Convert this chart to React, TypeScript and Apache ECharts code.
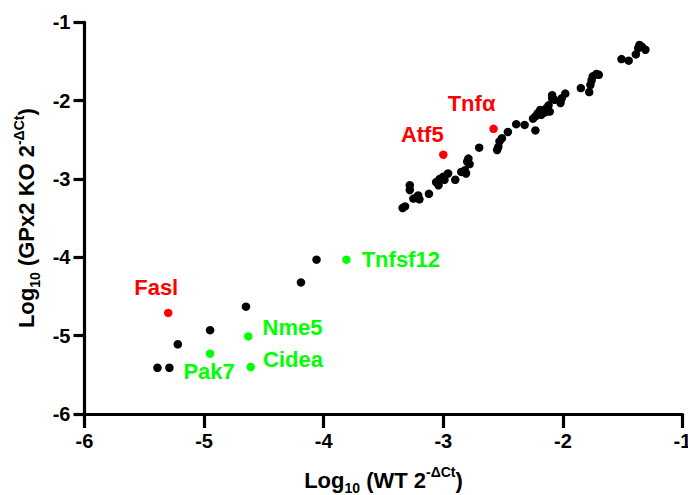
import React, { useEffect, useRef } from "react";
import * as echarts from "echarts";

// WT (x) and GPx2 KO (y) log10 values for unlabelled genes
const blackWT = [
  -4.06, -4.19, -4.65, -4.95, -5.22, -5.29, -5.39,
  -3.34, -3.32, -3.28, -3.28, -3.25, -3.21, -3.2, -3.12, -3.06, -3.04, -3.03, -3.0, -2.99,
  -2.96, -2.9, -2.85, -2.82, -2.81, -2.8, -2.79, -2.78, -2.7, -2.55, -2.54, -2.53, -2.51,
  -2.46, -2.39, -2.32, -2.23, -2.25, -2.23, -2.21, -2.19, -2.18, -2.15, -2.14, -2.12, -2.11,
  -2.09, -2.09, -2.07, -2.02, -1.98, -2.01, -1.85, -1.78, -1.77, -1.76, -1.75, -1.72, -1.7,
  -1.51, -1.45, -1.39, -1.37, -1.36, -1.34, -1.31,
];
const blackKO = [
  -4.03, -4.32, -4.63, -4.93, -5.11, -5.41, -5.41,
  -3.37, -3.35, -3.08, -3.14, -3.25, -3.21, -3.26, -3.19, -3.04, -3.08, -3.0, -2.97, -3.01,
  -2.93, -3.01, -2.91, -2.89, -2.93, -2.78, -2.74, -2.81, -2.6, -2.63, -2.59, -2.52, -2.48,
  -2.4, -2.3, -2.31, -2.38, -2.23, -2.2, -2.16, -2.12, -2.18, -2.15, -2.1, -2.06, -2.14,
  -1.97, -1.93, -1.99, -2.03, -1.91, -1.97, -1.84, -1.89, -1.8, -1.74, -1.69, -1.66, -1.67,
  -1.47, -1.49, -1.41, -1.33, -1.29, -1.31, -1.35,
];

const redGenes = ["Fasl", "Atf5", "Tnf\u03b1"];
const redWT = [-5.3, -3.0, -2.58];
const redKO = [-4.71, -2.69, -2.36];

const greenGenes = ["Tnfsf12", "Nme5", "Cidea", "Pak7"];
const greenWT = [-3.81, -4.63, -4.61, -4.95];
const greenKO = [-4.03, -5.01, -5.4, -5.23];

const axisTicks = { min: -6, max: -1, interval: 1 };

// label placement (style only)
const labelPlace: Record<string, { position: string; offset: number[] }> = {
  Fasl: { position: "top", offset: [-12, -5] },
  Atf5: { position: "top", offset: [-21, 0] },
  "Tnf\u03b1": { position: "top", offset: [-22, -5] },
  Tnfsf12: { position: "right", offset: [6, 0] },
  Nme5: { position: "right", offset: [5, -9] },
  Cidea: { position: "right", offset: [3, -7] },
  Pak7: { position: "bottom", offset: [-1, -2] },
};

const FONT = "'Liberation Sans', Arial, sans-serif";

function labelled(names: string[], xs: number[], ys: number[], color: string) {
  return names.map((n, i) => ({
    name: n,
    value: [xs[i], ys[i]],
    label: {
      show: true,
      formatter: "{b}",
      position: labelPlace[n].position,
      offset: labelPlace[n].offset,
      color,
      opacity: 1,
      fontSize: 22,
      fontWeight: "bold",
      fontFamily: FONT,
      distance: 5,
    },
  }));
}

const richName = {
  m: { fontSize: 22, fontWeight: "bold", fontFamily: FONT, color: "#000", lineHeight: 30, verticalAlign: "middle" },
  sub: { fontSize: 14, fontWeight: "bold", fontFamily: FONT, color: "#000", lineHeight: 14, verticalAlign: "bottom" },
  sup: { fontSize: 14, fontWeight: "bold", fontFamily: FONT, color: "#000", lineHeight: 14, verticalAlign: "top" },
};

export default function App() {
  const ref = useRef<HTMLDivElement>(null);
  useEffect(() => {
    document.body.style.margin = "0";
    const chart = echarts.init(ref.current!, null, { renderer: "svg" });
    const axisCommon = {
      type: "value",
      min: axisTicks.min,
      max: axisTicks.max,
      interval: axisTicks.interval,
      splitLine: { show: false },
      axisLine: { show: true, onZero: false, lineStyle: { color: "#000", width: 3.2 } },
      nameLocation: "middle",
    };
    chart.setOption({
      animation: false,
      backgroundColor: "#fff",
      grid: { left: 84.5, right: 5.5, top: 22.3, bottom: 81, outerBoundsMode: "none", containLabel: false },
      xAxis: {
        ...axisCommon,
        axisTick: { show: true, length: 14, lineStyle: { color: "#000", width: 3.2 } },
        axisLabel: { margin: 17, fontSize: 20, fontWeight: "bold", fontFamily: FONT, color: "#000", showMaxLabel: true, showMinLabel: true },
        name: "{m|Log}{sub|10}{m| (WT 2}{sup|-\u0394Ct}{m|)}",
        nameGap: 51,
        nameTextStyle: { rich: richName },
      },
      yAxis: {
        ...axisCommon,
        axisTick: { show: true, length: 11, lineStyle: { color: "#000", width: 3.2 } },
        axisLabel: { margin: 14, fontSize: 20, fontWeight: "bold", fontFamily: FONT, color: "#000" },
        name: "{m|Log}{sub|10}{m| (GPx2 KO 2}{sup|-\u0394Ct}{m|)}",
        nameGap: 38,
        nameRotate: 90,
        nameTextStyle: { rich: richName },
      },
      series: [
        {
          type: "scatter",
          symbolSize: 8.5,
          itemStyle: { color: "#000", opacity: 1 },
          data: blackWT.map((x, i) => [x, blackKO[i]]),
        },
        {
          type: "scatter",
          symbolSize: 8.5,
          itemStyle: { color: "#ff0000", opacity: 1 },
          data: labelled(redGenes, redWT, redKO, "#ff0000"),
        },
        {
          type: "scatter",
          symbolSize: 8.5,
          itemStyle: { color: "#00ff00", opacity: 1 },
          data: labelled(greenGenes, greenWT, greenKO, "#00ff00"),
        },
      ],
    });
    return () => chart.dispose();
  }, []);
  return <div ref={ref} style={{ width: 688, height: 495 }} />;
}
